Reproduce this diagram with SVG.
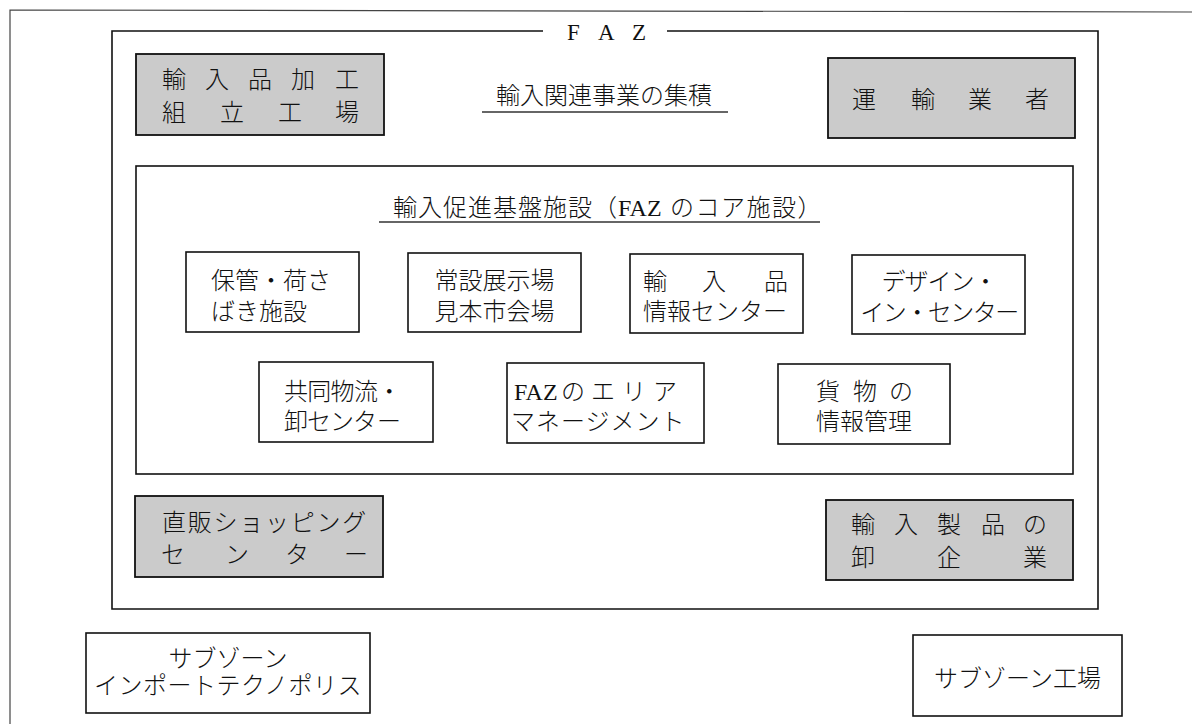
<svg xmlns="http://www.w3.org/2000/svg" width="1192" height="724" viewBox="0 0 1192 724">
<style>
.frame{fill:none;stroke:#444;stroke-width:1.2}
.faz{fill:none;stroke:#111;stroke-width:1.6}
.box{fill:#fff;stroke:#111;stroke-width:1.6}
.gbox{fill:#cbcbcb;stroke:#111;stroke-width:1.8}
.rule{stroke:#333;stroke-width:1.4}
.jp{font-family:"Noto Sans CJK JP","Noto Sans CJK SC",sans-serif;font-size:24px;font-weight:300;fill:#111}
.mid{text-anchor:middle}
.serif{font-family:"Liberation Serif",serif;font-weight:normal}
</style>
<rect width="1192" height="724" fill="#fff"/>
<g id="outer-frame">
  <path class="frame" d="M10,724 V10 L1192,12"/>
</g>
<g id="faz-zone">
  <path class="faz" d="M543,31 H112 V609 H1098 V31 H667"/>
  <text class="serif" font-size="23" fill="#111" x="567 598 632" y="40">FAZ</text>
</g>
<g id="title-import-business">
  <text class="jp" x="496" y="104">輸入関連事業の集積</text>
  <line class="rule" x1="482" y1="112" x2="728" y2="112"/>
</g>
<g id="node-import-processing">
  <rect class="gbox" x="136" y="54" width="248" height="81"/>
  <text class="jp" x="162 205 248 291 335" y="88">輸入品加工</text>
  <text class="jp" x="162 220 278 335" y="121">組立工場</text>
</g>
<g id="node-transport">
  <rect class="gbox" x="828" y="58" width="247" height="80"/>
  <text class="jp" x="852 911 968 1025" y="108">運輸業者</text>
</g>
<g id="core-facilities">
  <rect class="box" x="136" y="166" width="937" height="308"/>
  <text class="jp" y="216"><tspan x="393" letter-spacing="1">輸入促進基盤施設（</tspan><tspan class="serif">FAZ</tspan><tspan x="670" letter-spacing="1.5">のコア施設）</tspan></text>
  <line class="rule" x1="379" y1="222" x2="820" y2="222"/>
</g>
<g id="node-storage">
  <rect class="box" x="186" y="252" width="173" height="80"/>
  <text class="jp" x="211" y="289">保管・荷さ</text>
  <text class="jp" x="211" y="320">ばき施設</text>
</g>
<g id="node-showroom">
  <rect class="box" x="408" y="253" width="173" height="79"/>
  <text class="jp mid" x="494.5" y="289">常設展示場</text>
  <text class="jp mid" x="494.5" y="320">見本市会場</text>
</g>
<g id="node-info-center">
  <rect class="box" x="630" y="254" width="173" height="79"/>
  <text class="jp" x="643 702 764" y="290">輸入品</text>
  <text class="jp" x="643" y="320">情報センター</text>
</g>
<g id="node-design">
  <rect class="box" x="852" y="255" width="173" height="79"/>
  <text class="jp mid" x="939" y="290" letter-spacing="-1">デザイン・</text>
  <text class="jp mid" x="939" y="321" letter-spacing="-1.5">イン・センター</text>
</g>
<g id="node-logistics">
  <rect class="box" x="259" y="362" width="174" height="80"/>
  <text class="jp" x="284" y="400" letter-spacing="-0.7">共同物流・</text>
  <text class="jp" x="284 307 330 353 377" y="430">卸センター</text>
</g>
<g id="node-area-management">
  <rect class="box" x="507" y="363" width="197" height="80"/>
  <text class="jp" y="400"><tspan class="serif" x="514">FAZ</tspan><tspan x="561 591 622 653">のエリア</tspan></text>
  <text class="jp" x="511" y="430" letter-spacing="1">マネージメント</text>
</g>
<g id="node-cargo-info">
  <rect class="box" x="778" y="364" width="172" height="80"/>
  <text class="jp" x="816 853 889" y="400">貨物の</text>
  <text class="jp" x="816" y="430">情報管理</text>
</g>
<g id="node-outlet">
  <rect class="gbox" x="135" y="496" width="248" height="81"/>
  <text class="jp" x="162" y="531" letter-spacing="1.75">直販ショッピング</text>
  <text class="jp" x="161 225 285 344" y="563">センター</text>
</g>
<g id="node-wholesale">
  <rect class="gbox" x="826" y="500" width="247" height="80"/>
  <text class="jp" x="851 894 937 981 1023" y="533">輸入製品の</text>
  <text class="jp" x="851 937 1023" y="566">卸企業</text>
</g>
<g id="node-subzone-technopolis">
  <rect class="box" x="86" y="633" width="284" height="80"/>
  <text class="jp mid" x="228" y="667">サブゾーン</text>
  <text class="jp mid" x="228" y="694" letter-spacing="0.5">インポートテクノポリス</text>
</g>
<g id="node-subzone-factory">
  <rect class="box" x="913" y="635" width="209" height="81"/>
  <text class="jp mid" x="1017.5" y="687">サブゾーン工場</text>
</g>
</svg>
